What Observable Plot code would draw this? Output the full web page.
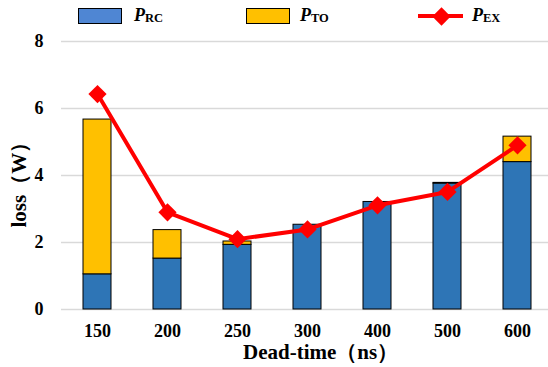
<!DOCTYPE html>
<html>
<head>
<meta charset="utf-8">
<script src="https://cdn.jsdelivr.net/npm/d3@7"></script>
<script src="https://cdn.jsdelivr.net/npm/@observablehq/plot@0.6"></script>
<style>
  html, body { margin: 0; padding: 0; background: #fff; }
  #wrap { width: 548px; height: 367px; overflow: hidden; }
  #legend { position: relative; width: 548px; height: 32px; font-family: "Liberation Serif", "Times New Roman", serif; font-weight: bold; }
  .sw { position: absolute; top: 8px; width: 42px; height: 14px; border: 1px solid #000; }
  .lab { position: absolute; top: 5px; font-size: 18px; line-height: 20px; white-space: nowrap; }
  .lab i { font-style: italic; }
  .lab sub { font-size: 12.5px; vertical-align: baseline; position: relative; top: 1px; font-style: normal; }
  .ln { position: absolute; top: 14px; width: 45px; height: 4px; background: #ff0000; }
  .dm { position: absolute; top: 9.5px; width: 13px; height: 13px; background: #ff0000; transform: rotate(45deg); }
  #chart svg text { font-family: "Liberation Serif", "Times New Roman", serif; }
</style>
</head>
<body>
<div id="wrap">
  <div id="legend"></div>
  <div id="chart"></div>
</div>
<script>
// ---- data ----
const deadTimes = ["150", "200", "250", "300", "400", "500", "600"];
const pRC = [1.05, 1.52, 1.93, 2.53, 3.21, 3.76, 4.40];
const pTO = [4.62, 0.85, 0.10, 0.00, 0.00, 0.02, 0.76];
const pEX = [6.43, 2.90, 2.10, 2.39, 3.11, 3.51, 4.90];
const yTicks = [0, 2, 4, 6, 8];
const seriesNames = ["RC", "TO", "EX"];
const seriesColors = ["#2E75B6", "#FFC000", "#FF0000"];
const legendBlue = "#4F86D3";
const xTitle = "Dead-time（ns）";
const yTitle = "loss（W）";

// ---- tables built from arrays ----
const bars = [];
deadTimes.forEach((t, i) => bars.push({t, s: "RC", v: pRC[i]}));
deadTimes.forEach((t, i) => bars.push({t, s: "TO", v: pTO[i]}));
const lineData = deadTimes.map((t, i) => ({t, v: pEX[i]}));

// ---- legend ----
const legend = document.getElementById("legend");
function add(cls, left, html, extra) {
  const d = document.createElement("div");
  d.className = cls;
  d.style.left = left + "px";
  if (html) d.innerHTML = html;
  if (extra) Object.assign(d.style, extra);
  legend.appendChild(d);
}
add("sw", 78, null, {background: legendBlue});
add("lab", 134, `<i>P</i><sub>${seriesNames[0]}</sub>`);
add("sw", 246, null, {background: seriesColors[1]});
add("lab", 300, `<i>P</i><sub>${seriesNames[1]}</sub>`);
add("ln", 418);
add("dm", 434.5);
add("lab", 472, `<i>P</i><sub>${seriesNames[2]}</sub>`);

// ---- chart ----
const font = "Liberation Serif";
const chart = Plot.plot({
  width: 548,
  height: 335,
  marginLeft: 61,
  marginRight: 0,
  marginTop: 9,
  marginBottom: 58,
  style: {fontFamily: font, fontWeight: "bold", fontSize: "18px", background: "#fff", overflow: "visible"},
  x: {domain: deadTimes, range: [61, 553], paddingInner: 0.6, paddingOuter: 0.3},
  y: {domain: [0, 8]},
  color: {domain: seriesNames, range: seriesColors},
  marks: [
    Plot.gridY(yTicks, {stroke: "#d9d9d9", strokeOpacity: 1, strokeWidth: 1.5}),
    Plot.barY(bars, {x: "t", y: "v", fill: "s", stroke: "#000", strokeWidth: 1}),
    Plot.line(lineData, {x: "t", y: "v", stroke: seriesColors[2], strokeWidth: 4}),
    Plot.dot(lineData, {x: "t", y: "v", symbol: "diamond2", r: 8.2, fill: seriesColors[2], stroke: "none"}),
    Plot.axisY({ticks: yTicks, tickSize: 0, tickPadding: 18, label: null, fontSize: 18, fontFamily: font, fontWeight: "bold"}),
    Plot.axisX({tickSize: 0, tickPadding: 15, label: null, fontSize: 18, fontFamily: font, fontWeight: "bold"}),
    Plot.text([xTitle], {frameAnchor: "bottom-left", textAnchor: "start", lineAnchor: "middle", dx: 181.5, dy: 43, fontSize: 21, fontFamily: font, fontWeight: "bold"}),
    Plot.text([yTitle], {frameAnchor: "left", textAnchor: "start", lineAnchor: "middle", dx: -42.5, dy: 52, rotate: -90, fontSize: 21, fontFamily: font, fontWeight: "bold"})
  ]
});
document.getElementById("chart").appendChild(chart);
</script>
</body>
</html>
